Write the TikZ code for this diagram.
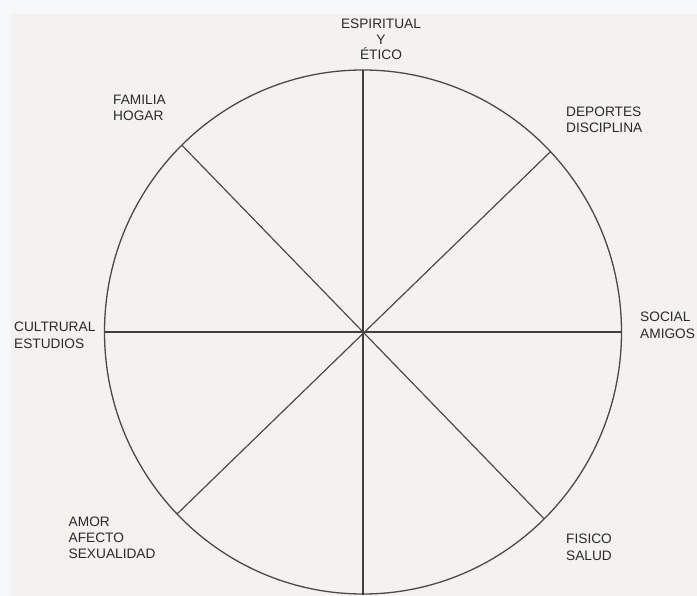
\documentclass[tikz,border=0pt]{standalone}
\usepackage{fontspec}
\setmainfont{Liberation Sans}
\usetikzlibrary{calc}

\definecolor{pagebg}{HTML}{F6F8FA}
\definecolor{panelbg}{HTML}{F3F2EF}
\definecolor{rim}{HTML}{4A4A4A}
\definecolor{ink}{HTML}{2A2A2A}

\begin{document}
\begin{tikzpicture}[x=1pt,y=-1pt,
    area/.style={inner sep=0pt,align=left,text=ink,
      font=\fontsize{13.7}{16.3}\selectfont},
    spoke/.style={draw=rim,line width=1.2pt},
    axis/.style={draw=rim!85!black,line width=1.6pt}]
  \useasboundingbox (0,0) rectangle (697,596);
  \fill[pagebg] (0,0) rectangle (697,596);
  \fill[panelbg] (11,14) rectangle (697,596);

  \coordinate (c) at (363,332);
  \draw[rim,line width=1.3pt] (c) ellipse [x radius=258.5pt,y radius=262pt];

  \coordinate (top) at ($(c)+(90:258.5pt and 262pt)$);
  \coordinate (bot) at ($(c)+(270:258.5pt and 263pt)$);
  \coordinate (lft) at ($(c)+(180:258.5pt and 262pt)$);
  \coordinate (rgt) at ($(c)+(0:258.5pt and 262pt)$);
  \coordinate (ne) at ($(c)+(43.5:258.5pt and 262pt)$);
  \coordinate (nw) at ($(c)+(134.5:258.5pt and 262pt)$);
  \coordinate (sw) at ($(c)+(224:258.5pt and 262pt)$);
  \coordinate (se) at ($(c)+(314.5:258.5pt and 262pt)$);

  \draw[axis] (top) -- (bot);
  \draw[axis] (lft) -- (rgt);
  \draw[spoke] (nw) -- (se);
  \draw[spoke] (ne) -- (sw);

  \node[area,align=center,anchor=north,font=\fontsize{13.7}{15.3}\selectfont]
    (etico) at (381,19) {ESPIRITUAL\\Y\\ÉTICO};
  \node[area,anchor=north west] (familia) at (113,95) {FAMILIA\\HOGAR};
  \node[area,anchor=north west] (deporte) at (566,106.5) {DEPORTES\\DISCIPLINA};
  \node[area,anchor=north west,font=\fontsize{13.7}{17.3}\selectfont]
    (cultura) at (14,321.5) {CULTRURAL\\ESTUDIOS};
  \node[area,anchor=north west,font=\fontsize{13.7}{17}\selectfont]
    (social) at (640,311.5) {SOCIAL\\AMIGOS};
  \node[area,anchor=north west] (amor) at (68.5,516.5) {AMOR\\AFECTO\\SEXUALIDAD};
  \node[area,anchor=north west,font=\fontsize{13.7}{17.3}\selectfont]
    (fisico) at (566,533.5) {FISICO\\SALUD};
\end{tikzpicture}
\end{document}
